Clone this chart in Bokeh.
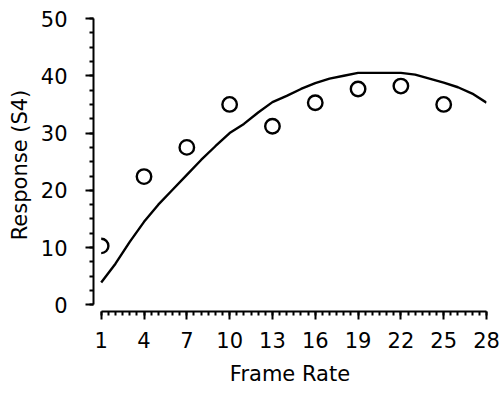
import math
from bokeh.plotting import figure
from bokeh.models import Range1d, FixedTicker
from bokeh.embed import file_html
from bokeh.resources import INLINE

# ---- data ----
point_x = [1, 4, 7, 10, 13, 16, 19, 22, 25]
point_y = [10.3, 22.4, 27.5, 35.0, 31.2, 35.3, 37.7, 38.2, 35.0]

curve_x = list(range(1, 29))
curve_y = [3.9, 7.2, 11.0, 14.5, 17.5, 20.1, 22.7, 25.3, 27.7, 30.0,
           31.6, 33.6, 35.4, 36.5, 37.7, 38.7, 39.5, 40.0, 40.5, 40.5,
           40.5, 40.5, 40.2, 39.5, 38.8, 38.0, 36.9, 35.3]

x_ticks = [1, 4, 7, 10, 13, 16, 19, 22, 25, 28]
x_minor = [1 + 0.5 * i for i in range(55)]
y_ticks = [0, 10, 20, 30, 40, 50]
y_minor = [2.5 * i for i in range(21)]

FONT = "DejaVu Sans"
FS = "21px"

p = figure(width=501, height=396, output_backend="svg", toolbar_location=None,
           x_range=Range1d(0.46, 28.0), y_range=Range1d(-1.15, 50.0),
           min_border_left=93, min_border_right=15, min_border_top=18,
           min_border_bottom=85)
p.outline_line_color = None
p.grid.visible = False
p.background_fill_color = "white"
p.border_fill_color = "white"

# curve
p.line(curve_x, curve_y, line_color="black", line_width=2.4)
# first point is clipped at the plot edge: only the right half shows
p.arc(x=point_x[:1], y=point_y[:1], radius=7.2, radius_units="screen",
      start_angle=-math.pi / 2, end_angle=math.pi / 2,
      line_color="black", line_width=2.4)
p.scatter(point_x[1:], point_y[1:], marker="circle", size=14.5,
          fill_color="white", line_color="black", line_width=2.4)

for ax in (p.xaxis[0], p.yaxis[0]):
    ax.axis_line_width = 2
    ax.major_tick_line_width = 2
    ax.minor_tick_line_width = 2
    ax.major_tick_in = 0
    ax.major_tick_out = 8
    ax.minor_tick_in = 0
    ax.minor_tick_out = 4
    ax.major_label_text_font = FONT
    ax.major_label_text_font_size = FS
    ax.major_label_text_color = "black"
    ax.axis_label_text_font = FONT
    ax.axis_label_text_font_size = FS
    ax.axis_label_text_font_style = "normal"
    ax.axis_label_text_color = "black"

xa = p.xaxis[0]
xa.ticker = FixedTicker(ticks=x_ticks, minor_ticks=x_minor)
xa.bounds = (1, 28)
xa.axis_label = "Frame Rate"
xa.major_label_standoff = 12
xa.axis_label_standoff = 11

ya = p.yaxis[0]
ya.ticker = FixedTicker(ticks=y_ticks, minor_ticks=y_minor)
ya.bounds = (0, 50)
ya.axis_label = "Response (S4)"
ya.major_label_standoff = 18
ya.axis_label_standoff = 6

open("out.html", "w").write(file_html(p, INLINE))
